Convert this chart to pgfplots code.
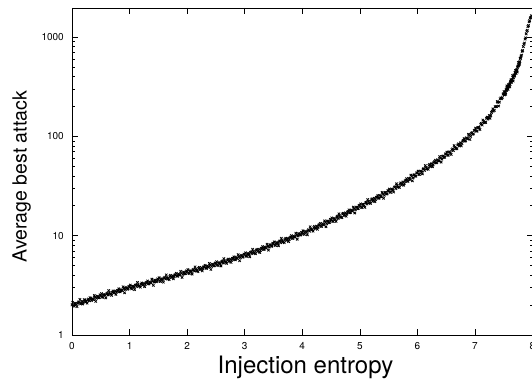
\documentclass[border=0pt]{standalone}
\usepackage{pgfplots}
\pgfplotsset{compat=1.18}
\usepackage{fontspec}
\setmainfont{TeX Gyre Heros}
\pgfplotstableread{
x y
0.000 2.01
0.025 1.99
0.050 2.08
0.075 2.02
0.100 2.09
0.125 2.13
0.150 2.06
0.175 2.18
0.200 2.14
0.225 2.25
0.250 2.17
0.275 2.26
0.300 2.21
0.325 2.33
0.350 2.29
0.375 2.27
0.400 2.41
0.425 2.34
0.450 2.44
0.475 2.38
0.500 2.49
0.525 2.43
0.550 2.55
0.575 2.50
0.600 2.59
0.625 2.53
0.650 2.66
0.675 2.58
0.700 2.70
0.725 2.65
0.750 2.77
0.775 2.70
0.800 2.81
0.825 2.74
0.850 2.86
0.875 2.80
0.900 2.95
0.925 2.87
0.950 2.97
0.975 2.91
1.000 3.05
1.025 2.97
1.050 3.09
1.075 3.02
1.100 3.16
1.125 3.07
1.150 3.19
1.175 3.12
1.200 3.26
1.225 3.18
1.250 3.31
1.275 3.24
1.300 3.39
1.325 3.30
1.350 3.42
1.375 3.34
1.400 3.49
1.425 3.40
1.450 3.55
1.475 3.46
1.500 3.61
1.525 3.52
1.550 3.68
1.575 3.58
1.600 3.75
1.625 3.66
1.650 3.80
1.675 3.72
1.700 3.90
1.725 3.79
1.750 3.95
1.775 3.86
1.800 4.04
1.825 3.93
1.850 4.11
1.875 4.00
1.900 4.18
1.925 4.07
1.950 4.27
1.975 4.15
2.000 4.34
2.025 4.22
2.050 4.43
2.075 4.31
2.100 4.51
2.125 4.40
2.150 4.60
2.175 4.46
2.200 4.68
2.225 4.55
2.250 4.77
2.275 4.63
2.300 4.86
2.325 4.72
2.350 4.95
2.375 4.80
2.400 5.05
2.425 4.90
2.450 5.13
2.475 4.98
2.500 5.23
2.525 5.08
2.550 5.34
2.575 5.19
2.600 5.45
2.625 5.29
2.650 5.57
2.675 5.40
2.700 5.68
2.725 5.51
2.750 5.80
2.775 5.64
2.800 5.93
2.825 5.75
2.850 6.05
2.875 5.87
2.900 6.17
2.925 5.99
2.950 6.30
2.975 6.12
3.000 6.44
3.025 6.26
3.050 6.60
3.075 6.42
3.100 6.77
3.125 6.59
3.150 6.95
3.175 6.75
3.200 7.12
3.225 6.93
3.250 7.30
3.275 7.11
3.300 7.49
3.325 7.29
3.350 7.68
3.375 7.48
3.400 7.87
3.425 7.66
3.450 8.08
3.475 7.87
3.500 8.29
3.525 8.07
3.550 8.51
3.575 8.28
3.600 8.72
3.625 8.49
3.650 8.96
3.675 8.71
3.700 9.18
3.725 8.94
3.750 9.42
3.775 9.16
3.800 9.66
3.825 9.41
3.850 9.91
3.875 9.65
3.900 10.2
3.925 9.90
3.950 10.4
3.975 10.2
4.000 10.7
4.025 10.5
4.050 11.0
4.075 10.8
4.100 11.3
4.125 11.1
4.150 11.7
4.175 11.5
4.200 12.1
4.225 11.8
4.250 12.5
4.275 12.1
4.300 12.9
4.325 12.4
4.350 13.2
4.375 12.8
4.400 13.6
4.425 13.2
4.450 14.0
4.475 13.6
4.500 14.4
4.525 14.0
4.550 14.9
4.575 14.5
4.600 15.4
4.625 14.9
4.650 15.9
4.675 15.4
4.700 16.5
4.725 15.9
4.750 17.0
4.775 16.5
4.800 17.5
4.825 17.0
4.850 18.1
4.875 17.6
4.900 18.7
4.925 18.2
4.950 19.4
4.975 18.8
5.000 20.0
5.025 19.3
5.050 20.7
5.075 20.0
5.100 21.4
5.125 20.8
5.150 22.2
5.175 21.5
5.200 23.0
5.225 22.2
5.250 23.8
5.275 23.0
5.300 24.6
5.325 23.8
5.350 25.4
5.375 24.6
5.400 26.4
5.425 25.5
5.450 27.3
5.475 26.4
5.500 28.2
5.525 27.4
5.550 29.5
5.575 28.6
5.600 30.7
5.625 29.8
5.650 31.9
5.675 31.0
5.700 33.3
5.725 32.4
5.750 34.8
5.775 33.7
5.800 36.2
5.825 35.2
5.850 37.8
5.875 36.7
5.900 39.4
5.925 38.2
5.950 41.0
5.975 39.8
6.000 42.8
6.025 41.5
6.050 44.7
6.075 43.4
6.100 46.7
6.125 45.3
6.150 48.7
6.175 47.4
6.200 50.9
6.225 49.4
6.250 53.2
6.275 51.7
6.300 55.6
6.325 54.0
6.350 58.1
6.375 56.5
6.400 60.7
6.425 59.0
6.450 63.4
6.475 61.6
6.500 66.2
6.525 64.6
6.550 69.8
6.575 68.2
6.600 73.6
6.625 71.9
6.650 77.6
6.675 75.8
6.700 81.8
6.725 79.9
6.750 86.2
6.775 84.4
6.800 91.3
6.825 89.4
6.850 96.7
6.875 94.7
6.900 102
6.925 100
6.950 109
6.975 106
7.000 115
7.025 113
7.050 123
7.075 121
7.100 132
7.125 130
7.150 141
7.175 139
7.200 152
7.225 149
7.250 162
7.275 162
7.300 179
7.325 180
7.350 199
7.375 199
7.400 220
7.425 221
7.450 244
7.475 245
7.50 268
7.51 264
7.52 281
7.53 277
7.54 294
7.55 290
7.56 308
7.57 303
7.58 322
7.59 318
7.60 337
7.61 334
7.62 355
7.63 351
7.64 374
7.65 369
7.66 393
7.67 389
7.68 414
7.69 409
7.70 434
7.71 433
7.72 464
7.73 462
7.74 494
7.75 510
7.76 516
7.77 559
7.78 565
7.79 613
7.80 642
7.81 656
7.82 717
7.83 733
7.84 801
7.85 845
7.86 870
7.87 952
7.88 980
7.89 1073
7.90 1140
7.91 1168
7.92 1272
7.93 1305
7.94 1422
7.95 1460
7.96 1555
7.97 1570
7.98 1640
0.0125 2.13
0.0375 1.95
0.0625 2.07
0.0875 1.93
0.1125 2.15
0.1375 2.28
0.1625 2.09
0.1875 2.05
0.2125 2.27
0.2375 2.18
0.2625 2.09
0.2875 2.30
0.3125 2.38
0.3375 2.22
0.3625 2.32
0.3875 2.50
0.4125 2.18
0.4375 2.46
0.4625 2.37
0.4875 2.54
0.5125 2.61
0.5375 2.39
0.5625 2.54
0.5875 2.36
0.6125 2.64
0.6375 2.80
0.6625 2.57
0.6875 2.51
0.7125 2.78
0.7375 2.67
0.7625 2.56
0.7875 2.81
0.8125 2.92
0.8375 2.72
0.8625 2.83
0.8875 3.06
0.9125 2.66
0.9375 3.01
0.9625 2.89
0.9875 3.09
1.0125 3.18
1.0375 2.91
1.0625 3.08
1.0875 2.86
1.1125 3.20
1.1375 3.38
1.1625 3.10
1.1875 3.03
1.2125 3.34
1.2375 3.21
1.2625 3.07
1.2875 3.37
1.3125 3.50
1.3375 3.26
1.3625 3.38
1.3875 3.65
1.4125 3.16
1.4375 3.57
1.4625 3.43
1.4875 3.67
1.5125 3.78
1.5375 3.46
1.5625 3.67
1.5875 3.40
1.6125 3.81
1.6375 4.03
1.6625 3.69
1.6875 3.61
1.7125 3.99
1.7375 3.83
1.7625 3.68
1.7875 4.03
1.8125 4.18
1.8375 3.90
1.8625 4.06
1.8875 4.38
1.9125 3.80
1.9375 4.30
1.9625 4.13
1.9875 4.42
2.0125 4.55
2.0375 4.16
2.0625 4.41
2.0875 4.10
2.1125 4.58
2.1375 4.85
2.1625 4.44
2.1875 4.34
2.2125 4.80
2.2375 4.61
2.2625 4.42
2.2875 4.85
2.3125 5.03
2.3375 4.69
2.3625 4.88
2.3875 5.26
2.4125 4.57
2.4375 5.17
2.4625 4.96
2.4875 5.31
2.5125 5.47
2.5375 5.00
2.5625 5.32
2.5875 4.95
2.6125 5.54
2.6375 5.86
2.6625 5.38
2.6875 5.26
2.7125 5.82
2.7375 5.60
2.7625 5.38
2.7875 5.90
2.8125 6.13
2.8375 5.72
2.8625 5.96
2.8875 6.44
2.9125 5.59
2.9375 6.32
2.9625 6.09
2.9875 6.52
3.0125 6.73
3.0375 6.17
3.0625 6.58
3.0875 6.13
3.1125 6.88
3.1375 7.30
3.1625 6.71
3.1875 6.58
3.2125 7.30
3.2375 7.04
3.2625 6.77
3.2875 7.44
3.3125 7.76
3.3375 7.26
3.3625 7.58
3.3875 8.21
3.4125 7.15
3.4375 8.11
3.4625 7.81
3.4875 8.40
3.5125 8.67
3.5375 7.96
3.5625 8.47
3.5875 7.91
3.6125 8.87
3.6375 9.42
3.6625 8.65
3.6875 8.50
3.7125 9.42
3.7375 9.09
3.7625 8.73
3.7875 9.60
3.8125 10.0
3.8375 9.37
3.8625 9.79
3.8875 10.6
3.9125 9.20
3.9375 10.5
3.9625 10.1
3.9875 10.8
4.0125 11.2
4.0375 10.3
4.0625 11.0
4.0875 10.2
4.1125 11.5
4.1375 12.3
4.1625 11.4
4.1875 11.1
4.2125 12.4
4.2375 12.0
4.2625 11.6
4.2875 12.8
4.3125 13.3
4.3375 12.4
4.3625 13.0
4.3875 14.1
4.4125 12.3
4.4375 14.0
4.4625 13.5
4.4875 14.6
4.5125 15.1
4.5375 13.9
4.5625 14.8
4.5875 13.9
4.6125 15.7
4.6375 16.6
4.6625 15.4
4.6875 15.2
4.7125 16.8
4.7375 16.3
4.7625 15.7
4.7875 17.3
4.8125 18.2
4.8375 17.1
4.8625 17.9
4.8875 19.4
4.9125 16.9
4.9375 19.3
4.9625 18.7
4.9875 20.2
5.0125 20.9
5.0375 19.2
5.0625 20.6
5.0875 19.3
5.1125 21.7
5.1375 23.1
5.1625 21.4
5.1875 21.1
5.2125 23.5
5.2375 22.8
5.2625 22.0
5.2875 24.3
5.3125 25.4
5.3375 23.9
5.3625 25.0
5.3875 27.3
5.4125 23.8
5.4375 27.2
5.4625 26.3
5.4875 28.4
5.5125 29.5
5.5375 27.3
5.5625 29.3
5.5875 27.5
5.6125 31.1
5.6375 33.3
5.6625 30.9
5.6875 30.6
5.7125 34.1
5.7375 33.2
5.7625 32.2
5.7875 35.7
5.8125 37.5
5.8375 35.4
5.8625 37.2
5.8875 40.7
5.9125 35.7
5.9375 40.8
5.9625 39.6
5.9875 42.8
6.0125 44.7
6.0375 41.4
6.0625 44.5
6.0875 41.9
6.1125 47.4
6.1375 50.8
6.1625 47.1
6.1875 46.6
6.2125 52.2
6.2375 50.8
6.2625 49.4
6.2875 54.7
6.3125 57.5
6.3375 54.3
6.3625 57.3
6.3875 62.6
6.4125 55.0
6.4375 63.0
6.4625 61.3
6.4875 66.5
6.5125 69.4
6.5375 64.5
6.5625 69.7
6.5875 65.8
6.6125 74.9
6.6375 80.7
6.6625 75.2
6.6875 74.8
6.7125 84.0
6.7375 82.2
6.7625 80.2
6.7875 89.6
6.8125 94.9
6.8375 90.2
6.8625 95.7
6.8875 105
6.9125 93
6.9375 107
6.9625 105
6.9875 115
7.0125 121
7.0375 113
7.0625 123
7.0875 117
7.1125 135
7.1375 146
7.1625 137
7.1875 138
7.2125 156
7.2375 154
7.2625 152
7.2875 174
7.3125 189
7.3375 183
7.3625 199
7.3875 224
7.4125 202
7.4375 239
7.4625 239
7.4875 266
7.505 282
7.515 261
7.525 281
7.535 265
7.545 300
7.555 322
7.565 299
7.575 297
7.585 332
7.595 324
7.605 315
7.615 351
7.625 370
7.635 351
7.645 371
7.655 408
7.665 360
7.675 413
7.685 403
7.695 438
7.705 460
7.715 430
7.725 467
7.735 444
7.745 508
7.755 554
7.765 526
7.775 534
7.785 612
7.795 610
}\datatable
\begin{document}
\begin{tikzpicture}[x=1pt,y=1pt]
\useasboundingbox (0,0) rectangle (532,379);
\begin{axis}[
  at={(72pt,44pt)}, anchor=south west,
  scale only axis, width=460.5pt, height=327pt,
  xmin=0, xmax=8, ymode=log, ymin=1, ymax=1960,
  xtick={0,1,...,8},
  ytick={1,10,100,1000}, yticklabels={1,10,100,1000},
  minor ytick={2,3,4,5,6,7,8,9,20,30,40,50,60,70,80,90,200,300,400,500,600,700,800,900},
  major tick length=6pt, minor tick length=3pt,
  tick align=inside,
  axis line style={line width=0.8pt},
  every tick/.style={black, line width=0.6pt},
  tick label style={font=\fontsize{10}{12}\selectfont},
  /pgf/number format/assume math mode=true,
  xticklabel style={inner sep=0pt, yshift=-7pt},
  yticklabel style={inner sep=0pt, xshift=-8pt},
  xlabel={Injection entropy},
  ylabel={Average best attack},
  xlabel style={at={(axis description cs:0.507,-0.117)}, anchor=base, inner sep=0pt, font=\fontsize{24}{28}\selectfont},
  ylabel style={at={(axis description cs:-0.0984,0.4847)}, anchor=base, inner sep=0pt, font=\fontsize{19.5}{23}\selectfont},
]
\addplot[only marks, mark=x, mark size=1.7pt, black, line width=0.8pt] table[x=x, y=y] {\datatable};
\end{axis}
\end{tikzpicture}
\end{document}
